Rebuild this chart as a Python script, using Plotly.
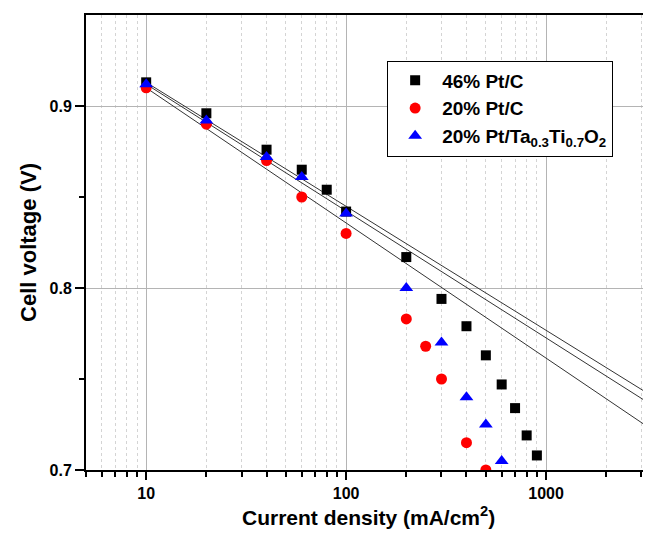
import math
import plotly.graph_objects as go

# Measured cell voltages (V) vs current density (mA/cm2)
current_46 = [10, 20, 40, 60, 80, 100, 200, 300, 400, 500, 600, 700, 800, 900]
voltage_46 = [0.913, 0.896, 0.876, 0.865, 0.854, 0.842, 0.817, 0.794, 0.779, 0.763, 0.747, 0.734, 0.719, 0.708]

current_20 = [10, 20, 40, 60, 100, 200, 250, 300, 400, 500]
voltage_20 = [0.910, 0.890, 0.870, 0.850, 0.830, 0.783, 0.768, 0.750, 0.715, 0.700]

current_tt = [10, 20, 40, 60, 100, 200, 300, 400, 500, 600]
voltage_tt = [0.912, 0.892, 0.872, 0.861, 0.841, 0.800, 0.770, 0.740, 0.725, 0.705]

# Tafel fit lines (end points)
fit_current = [10, 3350]
fit_46 = [0.913, 0.741]
fit_tt = [0.912, 0.736]
fit_20 = [0.910, 0.7225]

major_x = [10, 100, 1000]
minor_x = [5, 6, 7, 8, 9, 20, 30, 40, 50, 60, 70, 80, 90,
           200, 300, 400, 500, 600, 700, 800, 900, 2000, 3000]
major_y = [0.7, 0.8, 0.9]
minor_y = [0.75, 0.85]

FONT = "Arial, Liberation Sans, sans-serif"

fig = go.Figure()

for y_fit in (fit_46, fit_tt, fit_20):
    fig.add_trace(go.Scatter(
        x=fit_current, y=y_fit, mode='lines',
        line=dict(color='#333333', width=1),
        showlegend=False, hoverinfo='skip'
    ))

fig.add_trace(go.Scatter(
    x=current_46, y=voltage_46, mode='markers', name='46% Pt/C',
    marker=dict(symbol='square', size=10, color='black')
))
fig.add_trace(go.Scatter(
    x=current_20, y=voltage_20, mode='markers', name='20% Pt/C',
    marker=dict(symbol='circle', size=11, color='#ff0000')
))
fig.add_trace(go.Scatter(
    x=current_tt, y=voltage_tt, mode='markers',
    name='20% Pt/Ta<sub>0.3</sub>Ti<sub>0.7</sub>O<sub>2</sub>',
    marker=dict(symbol='triangle-up', size=12, color='#0000ff')
))

# page body has an 8px margin, so the figure is sized to fit the window
fig.update_layout(
    width=643, height=526,
    margin=dict(l=78, r=0, t=7, b=64),
    plot_bgcolor='white', paper_bgcolor='white',
    font=dict(family=FONT, color='black'),
    legend=dict(
        x=0.533, y=0.90, xanchor='left', yanchor='top',
        bordercolor='black', borderwidth=1, bgcolor='white',
        font=dict(size=19, weight='bold', family=FONT),
        itemwidth=44, tracegroupgap=0
    ),
    annotations=[dict(
        text='Current density (mA/cm<sup>2</sup>)',
        xref='paper', yref='paper', x=0.5, y=-0.10,
        xanchor='center', yanchor='middle', showarrow=False,
        font=dict(size=21, weight='bold', family=FONT)
    )]
)

fig.update_xaxes(
    type='log', range=[math.log10(5), math.log10(3350)], automargin=False,
    tickmode='array', tickvals=major_x, ticktext=[str(v) for v in major_x],
    ticks='outside', ticklen=8, tickwidth=2, tickcolor='black',
    tickfont=dict(size=16, weight='bold', family=FONT),
    showline=True, linecolor='black', linewidth=2, mirror=True,
    showgrid=True, gridcolor='#b4b4b4', gridwidth=1, zeroline=False,
    minor=dict(tickmode='array', tickvals=minor_x, ticks='outside', ticklen=5,
               tickwidth=1.5, tickcolor='black', showgrid=True,
               gridcolor='#d4d4d4', griddash='dot', gridwidth=1)
)

fig.update_yaxes(
    range=[0.7, 0.95], automargin=False,
    tickmode='array', tickvals=major_y, ticktext=['0.7', '0.8', '0.9'],
    ticks='outside', ticklen=9, tickwidth=2, tickcolor='black',
    tickfont=dict(size=16, weight='bold', family=FONT),
    showline=True, linecolor='black', linewidth=2,
    showgrid=True, gridcolor='#b4b4b4', gridwidth=1, zeroline=False,
    minor=dict(tickmode='array', tickvals=minor_y, ticks='outside', ticklen=5,
               tickwidth=1.5, tickcolor='black', showgrid=False),
    title=dict(text='Cell voltage (V)', standoff=7,
               font=dict(size=22, weight='bold', family=FONT))
)

fig.write_html("out.html")
